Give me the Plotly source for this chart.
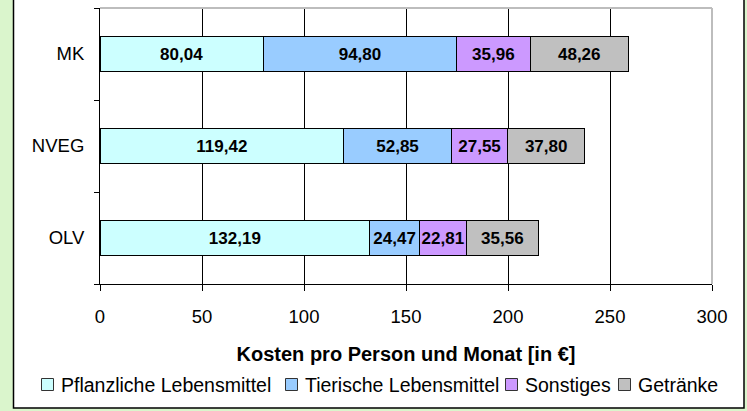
import plotly.graph_objects as go

categories = ["OLV", "NVEG", "MK"]
series_names = ["Pflanzliche Lebensmittel", "Tierische Lebensmittel", "Sonstiges", "Getränke"]
pflanzliche = [132.19, 119.42, 80.04]
tierische = [24.47, 52.85, 94.80]
sonstiges = [22.81, 27.55, 35.96]
getraenke = [35.56, 37.80, 48.26]
x_ticks = [0, 50, 100, 150, 200, 250, 300]
colors = ["#CCFFFF", "#99CCFF", "#CC99FF", "#C0C0C0"]

W, H = 747, 411
L, R, T, B = 100, 35, 8, 127
pw, ph = W - L - R, H - T - B

def px_x(px):
    return (px - L) / pw

def px_y(py):
    return (H - B - py) / ph

FONT = "Liberation Sans, Arial"

fig = go.Figure()
for name, vals, col in zip(series_names, [pflanzliche, tierische, sonstiges, getraenke], colors):
    fig.add_trace(go.Bar(
        y=categories, x=vals, name=name, orientation="h",
        marker=dict(color=col, line=dict(color="black", width=1)),
        text=[f"{v:.2f}".replace(".", ",") for v in vals],
        textposition="inside", insidetextanchor="middle", textangle=0,
        constraintext="none",
        textfont=dict(family=FONT, size=17, color="black", weight="bold"),
        hoverinfo="skip", showlegend=False,
    ))

shapes = [
    dict(type="rect", xref="paper", yref="paper", x0=px_x(13.5), x1=px_x(744), y0=px_y(408), y1=px_y(-3),
         fillcolor="white", line=dict(color="black", width=1.5), layer="below"),
    dict(type="line", xref="paper", yref="paper", x0=0, x1=1, y0=1, y1=1, line=dict(color="#BDBDBD", width=2), layer="above"),
    dict(type="line", xref="paper", yref="paper", x0=1, x1=1, y0=0, y1=1, line=dict(color="#BDBDBD", width=2), layer="above"),
]

# legend drawn as swatches + text (pixel positions of each entry)
legend_sym_x = [41, 285, 505, 618]
annotations = []
for name, col, sx in zip(series_names, colors, legend_sym_x):
    shapes.append(dict(type="rect", xref="paper", yref="paper",
                       x0=px_x(sx + 0.5), x1=px_x(sx + 12.5), y0=px_y(390.5), y1=px_y(378.5),
                       fillcolor=col, line=dict(color="#333333", width=1), layer="above"))
    annotations.append(dict(text=name, xref="paper", yref="paper", x=px_x(sx + 18), y=px_y(385),
                            xanchor="left", yanchor="middle", showarrow=False,
                            font=dict(family=FONT, size=19.5, color="black")))

fig.update_layout(
    width=W, height=H,
    margin=dict(l=L, r=R, t=T, b=B, autoexpand=False),
    paper_bgcolor="#DAF5CC", plot_bgcolor="white",
    barmode="stack", bargap=0.61,
    font=dict(family=FONT, size=18.5, color="black"),
    shapes=shapes, annotations=annotations,
    showlegend=False,
    xaxis=dict(range=[0, 300], tickvals=x_ticks, ticktext=[str(t) for t in x_ticks],
               showgrid=True, gridcolor="black", gridwidth=1,
               showline=True, linecolor="black", linewidth=1,
               ticks="outside", ticklen=6, tickcolor="black",
               zeroline=False, ticklabelstandoff=10,
               title=dict(text="<b>Kosten pro Person und Monat [in €]</b>", font=dict(size=20), standoff=20)),
    yaxis=dict(categoryorder="array", categoryarray=categories, range=[-0.5, 2.5],
               showgrid=False, showline=True, linecolor="black", linewidth=1,
               ticks="outside", ticklen=5, tickcolor="black", tickson="boundaries",
               ticklabelstandoff=11, zeroline=False),
)

fig.write_html("out.html", config={"displayModeBar": False},
               post_script="document.body.style.margin='0';document.body.style.padding='0';")
